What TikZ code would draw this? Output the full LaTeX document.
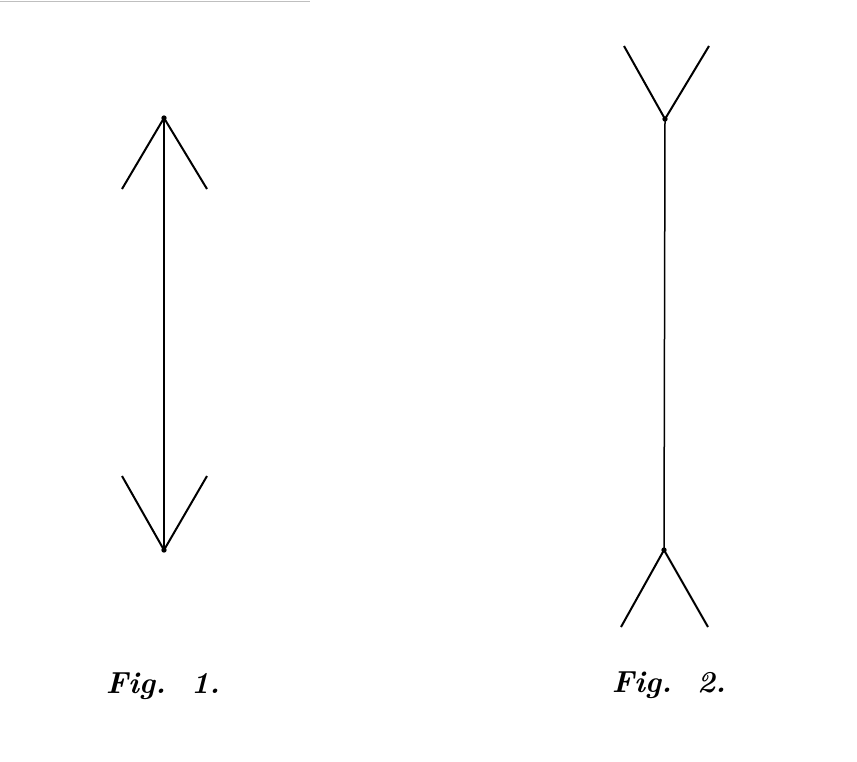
\documentclass[tikz,border=0pt]{standalone}
\usetikzlibrary{positioning}
\tikzset{
  shaft/.style={line width=0.45mm},
  wing/.style={line width=0.6mm},
  vertex/.style={circle,fill=black,inner sep=0pt,minimum size=1.6mm},
  caption/.style={font=\fontsize{26}{30}\selectfont\bfseries\itshape}
}
\begin{document}
\begin{tikzpicture}[x=0.3mm,y=-0.3mm]
\useasboundingbox (0,0) rectangle (857,761);
% scan edge
\draw[black!25,line width=0.3mm] (0,1) -- (310,1);

% Fig. 1
\node[vertex] (T1) at (164,118) {};
\node[vertex] (B1) at (164,550) {};
\coordinate (T1l) at (122,189);
\coordinate (T1r) at (207,189);
\coordinate (B1l) at (122,476);
\coordinate (B1r) at (207,476);
\draw[shaft] (T1.center) -- (B1.center);
\draw[wing] (T1l) -- (T1.center) -- (T1r);
\draw[wing] (B1l) -- (B1.center) -- (B1r);
\node[caption] (F1) at (163,686) {Fig.\ \ 1.};

% Fig. 2
\node[vertex] (T2) at (665,119) {};
\node[vertex] (B2) at (664,550) {};
\coordinate (T2l) at (624,46);
\coordinate (T2r) at (709,46);
\coordinate (B2l) at (621,627);
\coordinate (B2r) at (708,627);
\draw[shaft] (T2.center) -- (B2.center);
\draw[wing] (T2l) -- (T2.center) -- (T2r);
\draw[wing] (B2l) -- (B2.center) -- (B2r);
\node[caption] (F2) at (669,685) {Fig.\ \ 2.};
\end{tikzpicture}
\end{document}
